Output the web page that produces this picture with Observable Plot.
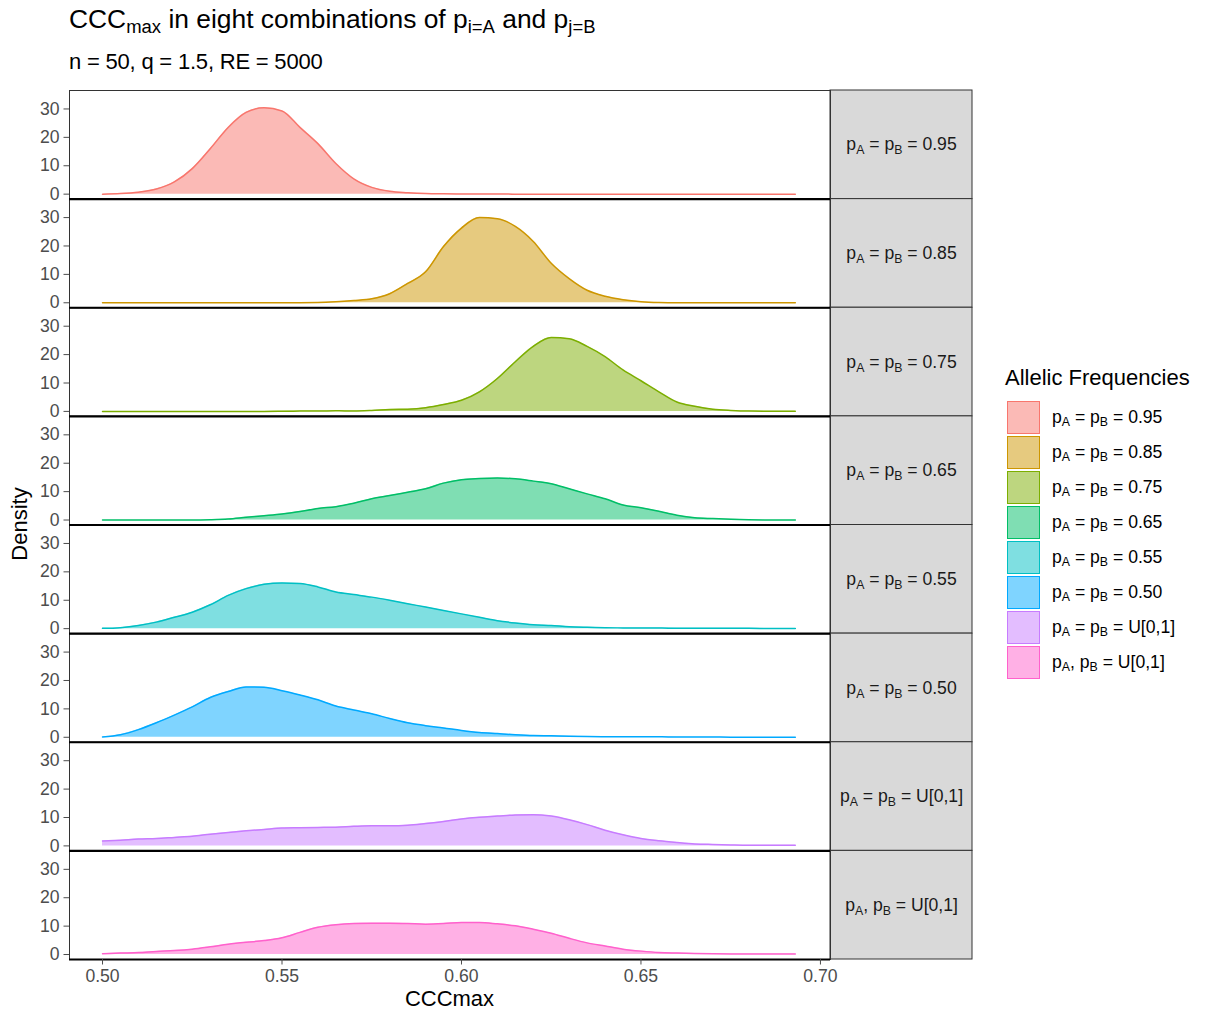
<!DOCTYPE html>
<html>
<head>
<meta charset="utf-8">
<script src="https://cdn.jsdelivr.net/npm/d3@7"></script>
<script src="https://cdn.jsdelivr.net/npm/@observablehq/plot@0.6"></script>
<style>
  html, body { margin: 0; padding: 0; background: #fff; }
  #fig { position: relative; width: 1208px; height: 1015px; overflow: hidden; background: #fff;
         font-family: "Liberation Sans", Arial, Helvetica, sans-serif; color: #000; }
  .abs { position: absolute; white-space: nowrap; }
  sub { font-size: 70%; vertical-align: -0.28em; line-height: 0; }
  #title { left: 69px; top: 5.6px; font-size: 26.4px; line-height: 26.4px; }
  #subtitle { left: 69px; top: 51.4px; font-size: 22px; line-height: 22px; letter-spacing: -0.2px; }
  #xlab { left: 349.5px; width: 200px; text-align: center; top: 988.4px; font-size: 22px; line-height: 22px; }
  #ylab { left: -80px; width: 200px; text-align: center; top: 513px; font-size: 22px; line-height: 22px; transform: rotate(-90deg); transform-origin: 100px 11px; }
  #plot { position: absolute; left: 0; top: 80px; }
  #legtitle { left: 1005px; top: 367.4px; font-size: 22px; line-height: 22px; }
  .key { position: absolute; left: 1007px; width: 33px; height: 33px; box-sizing: border-box; border: 1.5px solid; }
  .klab { position: absolute; left: 1052px; height: 33px; line-height: 33px; font-size: 17.6px; white-space: nowrap; }
  svg [aria-label="y-axis tick"], svg [aria-label="x-axis tick"] { stroke: #333; }
</style>
</head>
<body>
<div id="fig">
  <div id="title" class="abs">CCC<sub>max</sub> in eight combinations of p<sub>i=A</sub> and p<sub>j=B</sub></div>
  <div id="subtitle" class="abs">n = 50, q = 1.5, RE = 5000</div>
  <div id="plot"></div>
  <div id="xlab" class="abs">CCCmax</div>
  <div id="ylab" class="abs">Density</div>
  <div id="legtitle" class="abs">Allelic Frequencies</div>
</div>
<script>
// ---------------- data ----------------
const labels = [
  "p_A = p_B = 0.95",
  "p_A = p_B = 0.85",
  "p_A = p_B = 0.75",
  "p_A = p_B = 0.65",
  "p_A = p_B = 0.55",
  "p_A = p_B = 0.50",
  "p_A = p_B = U[0,1]",
  "p_A, p_B = U[0,1]"
];
const colors = ["#F8766D", "#CD9600", "#7CAE00", "#00BE67", "#00BFC4", "#00A9FF", "#C77CFF", "#FF61CC"];

// CCCmax grid (x values)
const ccc = [0.500, 0.505, 0.510, 0.515, 0.520, 0.525, 0.530, 0.535, 0.540, 0.545,
             0.550, 0.555, 0.560, 0.565, 0.570, 0.575, 0.580, 0.585, 0.590, 0.595,
             0.600, 0.605, 0.610, 0.615, 0.620, 0.625, 0.630, 0.635, 0.640, 0.645,
             0.650, 0.655, 0.660, 0.665, 0.670, 0.675, 0.680, 0.685, 0.690, 0.693];

// density values per combination
const dens095 = [0.0, 0.2, 0.7, 1.8, 4.3, 9.0, 16.0, 23.5, 28.8, 30.4,
                 29.3, 23.5, 17.8, 10.8, 5.4, 2.4, 1.0, 0.5, 0.2, 0.1,
                 0.05, 0.05, 0.05, 0, 0, 0, 0, 0, 0, 0,
                 0, 0, 0, 0, 0, 0, 0, 0, 0, 0];
const dens085 = [0, 0, 0, 0, 0, 0, 0, 0, 0, 0,
                 0, 0.05, 0.1, 0.35, 0.8, 1.4, 3.2, 6.8, 10.9, 19.8,
                 26.3, 30.0, 29.6, 26.9, 21.6, 13.9, 8.5, 4.4, 2.3, 1.1,
                 0.4, 0.1, 0, 0, 0, 0, 0, 0, 0, 0];
const dens075 = [0, 0, 0, 0, 0, 0, 0, 0, 0, 0,
                 0.05, 0.1, 0.1, 0.2, 0.15, 0.35, 0.7, 0.8, 1.3, 2.4,
                 3.9, 6.9, 11.6, 17.5, 22.9, 26.0, 25.6, 22.9, 19.3, 14.6,
                 10.8, 6.9, 3.3, 1.8, 0.8, 0.35, 0.1, 0.05, 0.05, 0.05];
const dens065 = [0, 0, 0, 0, 0, 0, 0.1, 0.35, 0.95, 1.5,
                 2.1, 3.0, 4.1, 4.7, 5.9, 7.5, 8.6, 9.8, 11.0, 13.0,
                 14.2, 14.6, 14.8, 14.5, 13.7, 12.8, 11.0, 9.2, 7.5, 5.3,
                 4.3, 3.1, 1.7, 0.8, 0.5, 0.25, 0.1, 0.05, 0.05, 0.05];
const dens055 = [0.1, 0.35, 1.1, 2.3, 4.0, 5.8, 8.4, 11.7, 14.1, 15.6,
                 16.1, 15.9, 14.7, 12.9, 12.0, 11.1, 10.0, 8.8, 7.6, 6.4,
                 5.2, 4.0, 2.8, 2.0, 1.4, 1.1, 0.7, 0.5, 0.35, 0.25,
                 0.2, 0.2, 0.15, 0.15, 0.1, 0.1, 0.1, 0.05, 0.05, 0.05];
const dens050 = [0.1, 0.9, 2.7, 5.1, 7.8, 10.7, 14.0, 16.1, 17.7, 17.6,
                 16.4, 14.9, 13.2, 11.0, 9.6, 8.3, 6.6, 5.1, 4.1, 3.3,
                 2.4, 1.7, 1.3, 0.9, 0.6, 0.5, 0.35, 0.25, 0.2, 0.2,
                 0.15, 0.15, 0.1, 0.1, 0.1, 0.05, 0.05, 0.05, 0.05, 0.05];
const densUsame = [1.7, 2.0, 2.4, 2.6, 3.0, 3.4, 4.1, 4.7, 5.3, 5.8,
                   6.3, 6.4, 6.5, 6.6, 6.9, 7.1, 7.1, 7.3, 7.9, 8.6,
                   9.5, 10.1, 10.5, 10.9, 11.0, 10.5, 9.2, 7.5, 5.5, 3.9,
                   2.6, 1.8, 1.2, 0.7, 0.5, 0.35, 0.25, 0.25, 0.2, 0.2];
const densUind = [0.25, 0.5, 0.7, 1.1, 1.4, 1.9, 2.7, 3.6, 4.3, 4.9,
                  5.9, 7.8, 9.6, 10.5, 10.9, 11.0, 11.0, 10.9, 10.7, 10.9,
                  11.3, 11.3, 10.8, 10.1, 8.9, 7.5, 5.7, 4.1, 3.0, 1.9,
                  1.2, 0.7, 0.5, 0.35, 0.25, 0.2, 0.2, 0.15, 0.15, 0.15];

const xTicks = [0.50, 0.55, 0.60, 0.65, 0.70];
const yTicks = [0, 10, 20, 30];

// ---------------- build ----------------
const series = [dens095, dens085, dens075, dens065, dens055, dens050, densUsame, densUind];
const rows = labels.flatMap((g, i) => ccc.map((x, j) => ({g, x, y: series[i][j]})));

const xDomain = [0.4908, 0.7028];
const yDomain = [-1.75, 36.5];
// strip panel to the right of each facet (in x units, extending past the panel)
const stripFrac = 142 / 761;
const stripX1 = xDomain[1];
const stripX2 = xDomain[1] + (xDomain[1] - xDomain[0]) * stripFrac;
const stripMid = (stripX1 + stripX2) / 2;
const yMid = (yDomain[0] + yDomain[1]) / 2;

const chart = Plot.plot({
  width: 985,
  height: 935,
  marginTop: 10,
  marginBottom: 56,
  marginLeft: 69,
  marginRight: 155,
  style: {fontFamily: '"Liberation Sans", Arial, Helvetica, sans-serif', fontSize: "17.6px", background: "white", overflow: "visible"},
  x: {domain: xDomain, label: null},
  y: {domain: yDomain, label: null},
  fy: {domain: labels, padding: 0, round: false, axis: null, label: null},
  color: {domain: labels, range: colors},
  marks: [
    Plot.rect(labels, {x1: () => stripX1, x2: () => stripX2, y1: () => yDomain[0], y2: () => yDomain[1],
                       fy: d => d, fill: "#d9d9d9", stroke: "#333", strokeWidth: 1}),
    Plot.text(labels, {x: () => stripMid, y: () => yMid, fy: d => d, text: d => d,
                       fill: "#1a1a1a", fontSize: 17.6, className: "strip-lbl"}),
    Plot.areaY(rows, {x: "x", y: "y", fy: "g", z: "g", fill: "g", fillOpacity: 0.5, curve: "monotone-x"}),
    Plot.lineY(rows, {x: "x", y: "y", fy: "g", z: "g", stroke: "g", strokeWidth: 1.5, curve: "monotone-x"}),
    Plot.frame({stroke: "#333", strokeWidth: 1}),
    Plot.ruleY([yDomain[0]], {stroke: "black", strokeWidth: 2.2}),
    Plot.axisY({ticks: yTicks, tickSize: 5.5, tickPadding: 4.4, color: "#4d4d4d", label: null}),
    Plot.axisX({ticks: xTicks, tickFormat: d3.format(".2f"), tickSize: 5.5, tickPadding: 4.4, color: "#4d4d4d", label: null})
  ]
});
document.getElementById("plot").appendChild(chart);

// subscripts in strip labels
function subParts(s) {
  const parts = [];
  const re = /_([A-Za-z0-9]+)/g;
  let last = 0, m;
  while ((m = re.exec(s)) !== null) {
    if (m.index > last) parts.push({t: s.slice(last, m.index), sub: false});
    parts.push({t: m[1], sub: true});
    last = m.index + m[0].length;
  }
  if (last < s.length) parts.push({t: s.slice(last), sub: false});
  return parts;
}
d3.select(chart).selectAll(".strip-lbl text").each(function() {
  const s = this.textContent;
  const el = d3.select(this);
  el.text(null);
  let shifted = false;
  for (const p of subParts(s)) {
    const ts = el.append("tspan").text(p.t);
    if (p.sub) { ts.attr("font-size", 12.3).attr("dy", shifted ? 0 : 4); shifted = true; }
    else { if (shifted) { ts.attr("dy", -4); shifted = false; } }
  }
});

// legend
const fig = document.getElementById("fig");
labels.forEach((lab, i) => {
  const top = 400.7 + i * 35.1;
  const key = document.createElement("div");
  key.className = "key";
  key.style.top = top + "px";
  const c = d3.color(colors[i]);
  const f = c.copy({opacity: 0.5});
  key.style.background = f.formatRgb();
  key.style.borderColor = colors[i];
  fig.appendChild(key);
  const t = document.createElement("div");
  t.className = "klab";
  t.style.top = top + "px";
  const span = document.createElement("span");
  span.innerHTML = lab.replace(/_([A-Za-z0-9]+)/g, "<sub>$1</sub>");
  t.appendChild(span);
  fig.appendChild(t);
});
</script>
</body>
</html>
